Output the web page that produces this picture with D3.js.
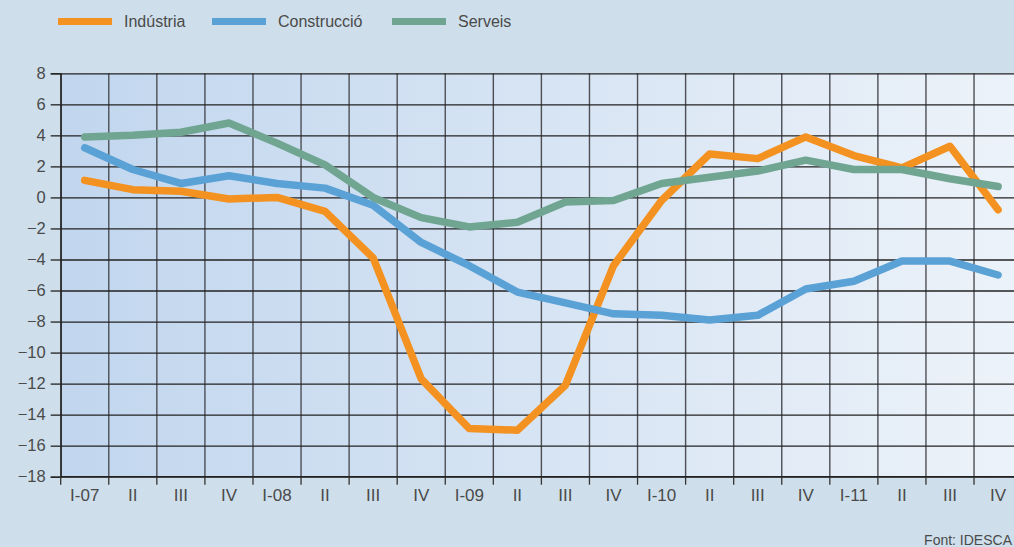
<!DOCTYPE html>
<html>
<head>
<meta charset="utf-8">
<script src="https://cdn.jsdelivr.net/npm/d3@7"></script>
<style>
  html, body { margin: 0; padding: 0; background: #cedfeb; }
  svg { display: block; }
  text { font-family: "Liberation Sans", Arial, sans-serif; fill: #4a4a4a; }
</style>
</head>
<body>
<svg id="chart" width="1014" height="547"></svg>
<script>
// Quarterly labels, 2007–2011
const quarters = ["I-07","II","III","IV","I-08","II","III","IV","I-09","II","III","IV",
                  "I-10","II","III","IV","I-11","II","III","IV"];

// Year-on-year change (%) by sector
const industria    = [1.1, 0.5, 0.4, -0.1, 0.0, -0.9, -3.9, -11.7, -14.9, -15.0, -12.1, -4.4,
                      -0.2, 2.8, 2.5, 3.9, 2.7, 1.9, 3.3, -0.8];
const construccio  = [3.2, 1.8, 0.9, 1.4, 0.9, 0.6, -0.5, -2.9, -4.4, -6.1, -6.8, -7.5,
                      -7.6, -7.9, -7.6, -5.9, -5.4, -4.1, -4.1, -5.0];
const serveis      = [3.9, 4.0, 4.2, 4.8, 3.5, 2.1, 0.0, -1.3, -1.9, -1.6, -0.3, -0.2,
                      0.9, 1.3, 1.7, 2.4, 1.8, 1.8, 1.2, 0.7];

const seriesNames  = ["Indústria", "Construcció", "Serveis"];
const seriesColors = ["#f39220", "#5aa1d6", "#70a591"];
const yTicks = d3.range(-18, 9, 2);

const W = 1014, H = 547;
const plotLeft = 60.7, plotTop = 73.3, plotBottom = 476.7, step = 48.07;
const plotRight = plotLeft + step * quarters.length;

const svg = d3.select("#chart");

const x = d3.scaleBand().domain(d3.range(quarters.length)).range([plotLeft, plotRight]).padding(0);
const y = d3.scaleLinear().domain([-18, 8]).range([plotBottom, plotTop]);

// Plot background: blue on the left fading to pale on the right
const defs = svg.append("defs");
const grad = defs.append("linearGradient").attr("id", "plotbg")
  .attr("x1", "0%").attr("x2", "100%").attr("y1", "0%").attr("y2", "0%");
grad.append("stop").attr("offset", "0%").attr("stop-color", "#c1d6ee");
grad.append("stop").attr("offset", "100%").attr("stop-color", "#ecf2f9");

svg.append("rect")
  .attr("x", plotLeft).attr("y", plotTop)
  .attr("width", W - plotLeft).attr("height", plotBottom - plotTop)
  .attr("fill", "url(#plotbg)");

// Vertical grid lines at quarter boundaries
const xGrid = d3.axisBottom(x).tickSize(-(plotBottom - plotTop)).tickFormat("");
const gx = svg.append("g").attr("transform", `translate(${-step / 2},${plotBottom})`).call(xGrid);
gx.select(".domain").remove();
gx.selectAll("line").attr("stroke", "#4d4f55").attr("stroke-width", 1.4);

// Horizontal grid lines
const yGrid = d3.axisLeft(y).tickValues(yTicks).tickSize(-(W - plotLeft)).tickFormat("");
const gy = svg.append("g").attr("transform", `translate(${plotLeft},0)`).call(yGrid);
gy.select(".domain").remove();
gy.selectAll("line").attr("stroke", "#222").attr("stroke-width", 1.3);

// Y axis ticks and labels
const yAxis = d3.axisLeft(y).tickValues(yTicks).tickSize(10).tickPadding(5)
  .tickFormat(d3.format("d"));
const ya = svg.append("g").attr("transform", `translate(${plotLeft},0)`).call(yAxis);
ya.select(".domain").attr("stroke", "#222").attr("stroke-width", 1.3);
ya.selectAll("line").attr("stroke", "#222").attr("stroke-width", 1.3);
ya.selectAll("text").style("font-size", "16.5px").attr("fill", "#4a4a4a");

// X axis ticks at boundaries, labels centred in each quarter
const xTicks = d3.axisBottom(x).tickSize(8).tickFormat("");
const xt = svg.append("g").attr("transform", `translate(${-step / 2},${plotBottom})`).call(xTicks);
xt.select(".domain").remove();
xt.selectAll("line").attr("stroke", "#333").attr("stroke-width", 1.3);
svg.append("line").attr("x1", plotLeft).attr("x2", W).attr("y1", plotBottom).attr("y2", plotBottom)
  .attr("stroke", "#222").attr("stroke-width", 1.3);

const xAxis = d3.axisBottom(x).tickSize(0).tickPadding(12).tickFormat(i => quarters[i]);
const xa = svg.append("g").attr("transform", `translate(0,${plotBottom})`).call(xAxis);
xa.select(".domain").remove();
xa.selectAll("text").style("font-size", "17px").attr("fill", "#4a4a4a");

// Series lines
const line = d3.line()
  .x((d, i) => x(i) + x.bandwidth() / 2)
  .y(d => y(d));

[industria, construccio, serveis].forEach((vals, k) => {
  svg.append("path")
    .datum(vals)
    .attr("d", line)
    .attr("fill", "none")
    .attr("stroke", seriesColors[k])
    .attr("stroke-width", 7.5)
    .attr("stroke-linecap", "round")
    .attr("stroke-linejoin", "round");
});

// Legend
const legendX = [58, 212, 392];
const lg = svg.append("g");
seriesNames.forEach((name, k) => {
  lg.append("line")
    .attr("x1", legendX[k]).attr("x2", legendX[k] + 54)
    .attr("y1", 21.5).attr("y2", 21.5)
    .attr("stroke", seriesColors[k]).attr("stroke-width", 7);
  lg.append("text")
    .attr("x", legendX[k] + 66).attr("y", 27)
    .style("font-size", "16px")
    .text(name);
});

// Source note
svg.append("text")
  .attr("x", 1012).attr("y", 545)
  .attr("text-anchor", "end")
  .style("font-size", "14px")
  .text("Font: IDESCA");
</script>
</body>
</html>
